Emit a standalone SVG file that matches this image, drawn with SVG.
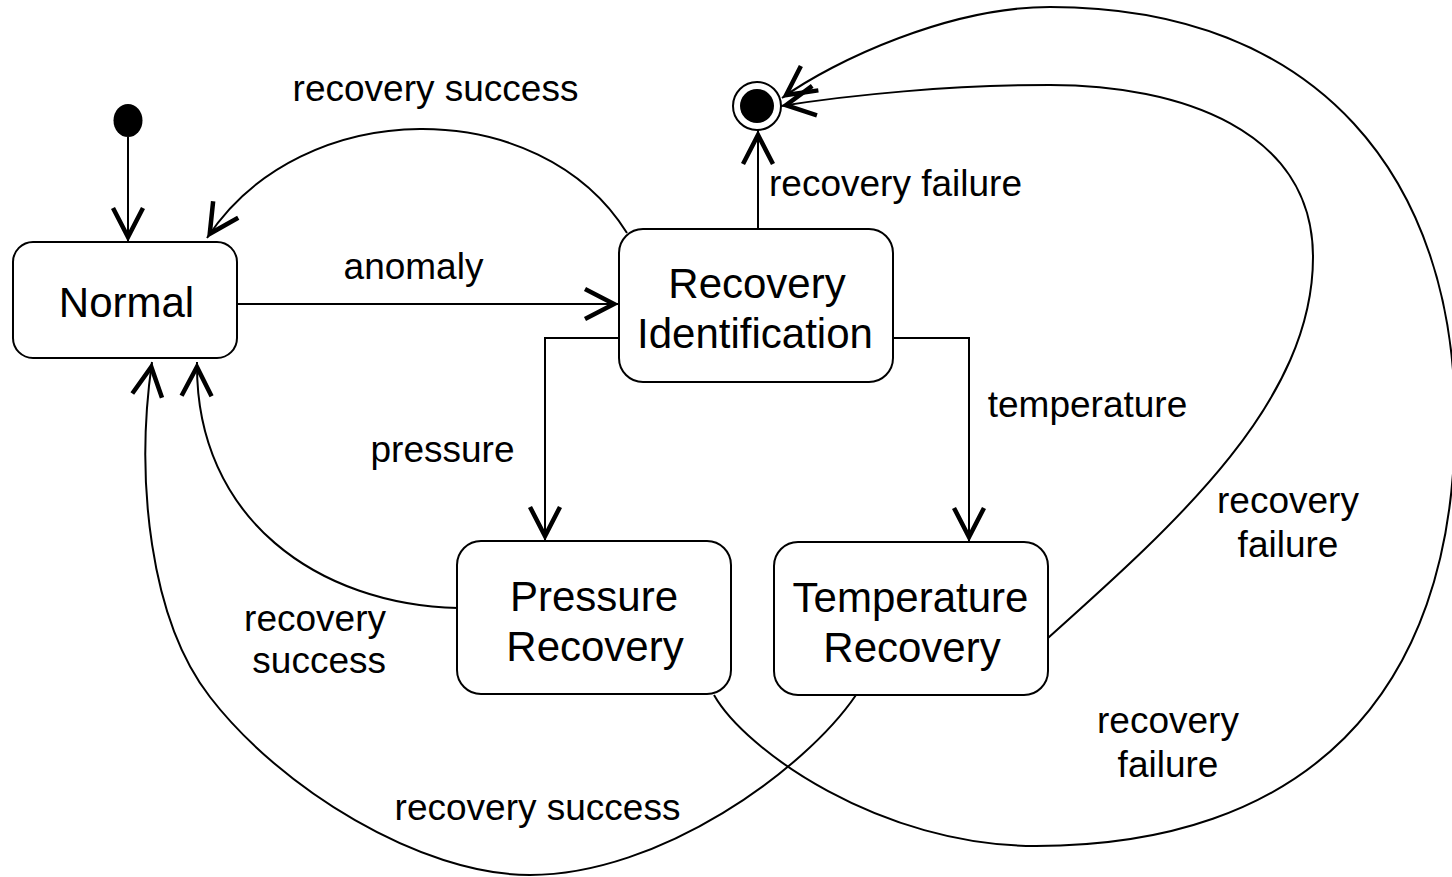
<svg xmlns="http://www.w3.org/2000/svg" width="1452" height="877" viewBox="0 0 1452 877">
  <style>
    .state { fill: #fff; stroke: #000; stroke-width: 2; }
    .name { font-family: "Liberation Sans", Arial, sans-serif; font-size: 42px; fill: #000; text-anchor: middle; }
    .lbl { font-family: "Liberation Sans", Arial, sans-serif; font-size: 37px; fill: #000; text-anchor: middle; }
    .edge { fill: none; stroke: #000; stroke-width: 2; marker-end: url(#open); }
  </style>
  <defs>
    <!-- open V arrowhead -->
    <marker id="open" markerUnits="userSpaceOnUse" viewBox="-40 -20 44 40" markerWidth="44" markerHeight="40" refX="0" refY="0" orient="auto" overflow="visible">
      <path d="M-34,-15 L-5,0 L-34,15" fill="none" stroke="#000" stroke-width="4.5" stroke-linejoin="miter"/>
    </marker>
  </defs>

  <!-- transitions -->
  <g id="connectors">
    <!-- initial -> Normal -->
    <path class="edge" d="M128 137 L128 242"/>
    <!-- anomaly -->
    <path class="edge" d="M237 304 L619 304"/>
    <!-- Recovery Identification -> Normal (recovery success) -->
    <path class="edge" d="M627 233 C540 93.5, 302 93.5, 207 238"/>
    <!-- Recovery Identification -> final (recovery failure) -->
    <path class="edge" d="M758 229 L758 130"/>
    <!-- pressure -->
    <path class="edge" d="M619 338 L545 338 L545 541"/>
    <!-- temperature -->
    <path class="edge" d="M893 338 L969 338 L969 542"/>
    <!-- Pressure Recovery -> Normal -->
    <path class="edge" d="M458 608 C320 605, 195 520, 197 362"/>
    <!-- Temperature Recovery -> Normal -->
    <path class="edge" d="M856 695 C805 770, 660 875, 530 875 C420 875, 280 788, 210 697 C150 620, 135 480, 152 362"/>
    <!-- Pressure Recovery -> final (recovery failure) -->
    <path class="edge" d="M714 695 C745 750, 880 846, 1036 846 C1300 846, 1455 700, 1455 420 C1455 180, 1320 7, 1050 7 C950 7, 835 60, 782 98"/>
    <!-- Temperature Recovery -> final (recovery failure) -->
    <path class="edge" d="M1048 638 C1180 520, 1313 400, 1313 257 C1313 130, 1180 85, 1050 85 C950 85, 850 95, 781 106"/>
  </g>

  <!-- transition labels -->
  <g id="labels">
    <text class="lbl" x="435.5" y="101">recovery success</text>
    <text class="lbl" x="413.5" y="279">anomaly</text>
    <text class="lbl" x="895.5" y="196">recovery failure</text>
    <text class="lbl" x="442.5" y="462">pressure</text>
    <text class="lbl" x="1087.5" y="417">temperature</text>
    <text class="lbl" x="1288" y="513">recovery</text>
    <text class="lbl" x="1288" y="557">failure</text>
    <text class="lbl" x="386" y="631" style="text-anchor:end">recovery</text>
    <text class="lbl" x="386" y="673" style="text-anchor:end">success</text>
    <text class="lbl" x="1168" y="733">recovery</text>
    <text class="lbl" x="1168" y="777">failure</text>
    <text class="lbl" x="537.5" y="820">recovery success</text>
  </g>

  <!-- pseudo states -->
  <g id="initial">
    <ellipse cx="128" cy="120.5" rx="14.5" ry="16.5" fill="#000"/>
  </g>
  <g id="final">
    <circle cx="757" cy="106" r="24" fill="#fff" stroke="#000" stroke-width="2"/>
    <circle cx="757" cy="106" r="17" fill="#000"/>
  </g>

  <!-- states -->
  <g id="normal">
    <rect class="state" x="13" y="242" width="224" height="116" rx="20"/>
    <text class="name" x="126.5" y="317">Normal</text>
  </g>
  <g id="recovery-identification">
    <rect class="state" x="619" y="229" width="274" height="153" rx="24"/>
    <text class="name" x="757" y="298">Recovery</text>
    <text class="name" x="755" y="348">Identification</text>
  </g>
  <g id="pressure-recovery">
    <rect class="state" x="457" y="541" width="274" height="153" rx="24"/>
    <text class="name" x="594" y="611">Pressure</text>
    <text class="name" x="595" y="661">Recovery</text>
  </g>
  <g id="temperature-recovery">
    <rect class="state" x="774" y="542" width="274" height="153" rx="24"/>
    <text class="name" x="910.5" y="612">Temperature</text>
    <text class="name" x="912" y="662">Recovery</text>
  </g>
</svg>
